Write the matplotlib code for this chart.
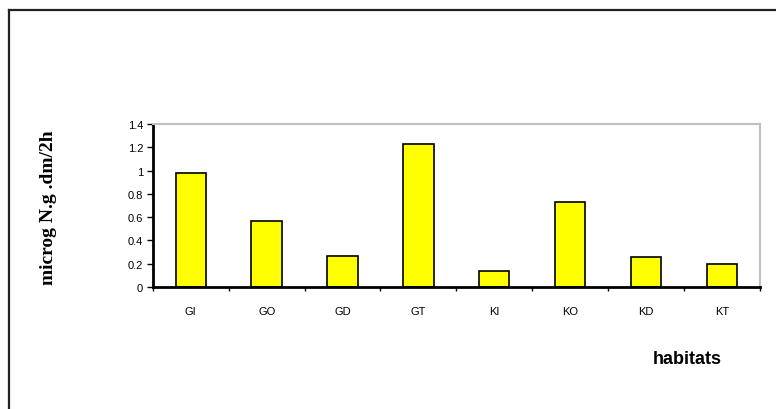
import matplotlib.pyplot as plt
from matplotlib.lines import Line2D

# data
habitats = ['GI', 'GO', 'GD', 'GT', 'KI', 'KO', 'KD', 'KT']
valores = [0.98, 0.57, 0.27, 1.23, 0.14, 0.73, 0.26, 0.20]
yticks = [0, 0.2, 0.4, 0.6, 0.8, 1, 1.2, 1.4]
ytick_labels = ['0', '0.2', '0.4', '0.6', '0.8', '1', '1.2', '1.4']

fig = plt.figure(figsize=(7.76, 4.10), dpi=100)
ax = fig.add_axes([0.197, 0.2976, 0.782, 0.3974])

pos = range(len(habitats))
ax.bar(pos, valores, width=0.4, color='#ffff00', edgecolor='black', linewidth=1.2)

ax.set_xlim(-0.5, len(habitats) - 0.5)
ax.set_ylim(0, 1.4)
ax.set_yticks(yticks)
ax.set_yticklabels(ytick_labels, fontsize=8, family='Liberation Sans')

# category labels between boundary ticks
ax.set_xticks([i - 0.5 for i in range(len(habitats) + 1)])
ax.set_xticklabels([])
ax.set_xticks(list(pos), minor=True)
ax.set_xticklabels(habitats, minor=True, fontsize=8, family='Liberation Sans')
ax.tick_params(axis='x', which='minor', length=0, pad=14)
ax.tick_params(axis='x', which='major', length=3, width=1, direction='out')
ax.tick_params(axis='y', length=4, width=1, direction='out', pad=3)

for s in ['left', 'bottom']:
    ax.spines[s].set_linewidth(2)
    ax.spines[s].set_color('black')
for s in ['top', 'right']:
    ax.spines[s].set_linewidth(1.5)
    ax.spines[s].set_color('#c0c0c0')

# axis titles
fig.text(0.062, 0.494, 'microg N.g .dm/2h', rotation=90, ha='center', va='center',
         fontsize=14, fontweight='bold', family='Liberation Serif')
fig.text(0.885, 0.124, 'habitats', ha='center', va='center',
         fontsize=13, fontweight='bold', family='Liberation Sans')

# outer frame (left and top edges only, the rest is cropped)
fig.add_artist(Line2D([0.0115, 0.0115], [0.0, 0.974], color='#222222', linewidth=1.6))
fig.add_artist(Line2D([0.0115, 1.0], [0.974, 0.974], color='#222222', linewidth=1.6))

fig.savefig('out.png', dpi=100)
